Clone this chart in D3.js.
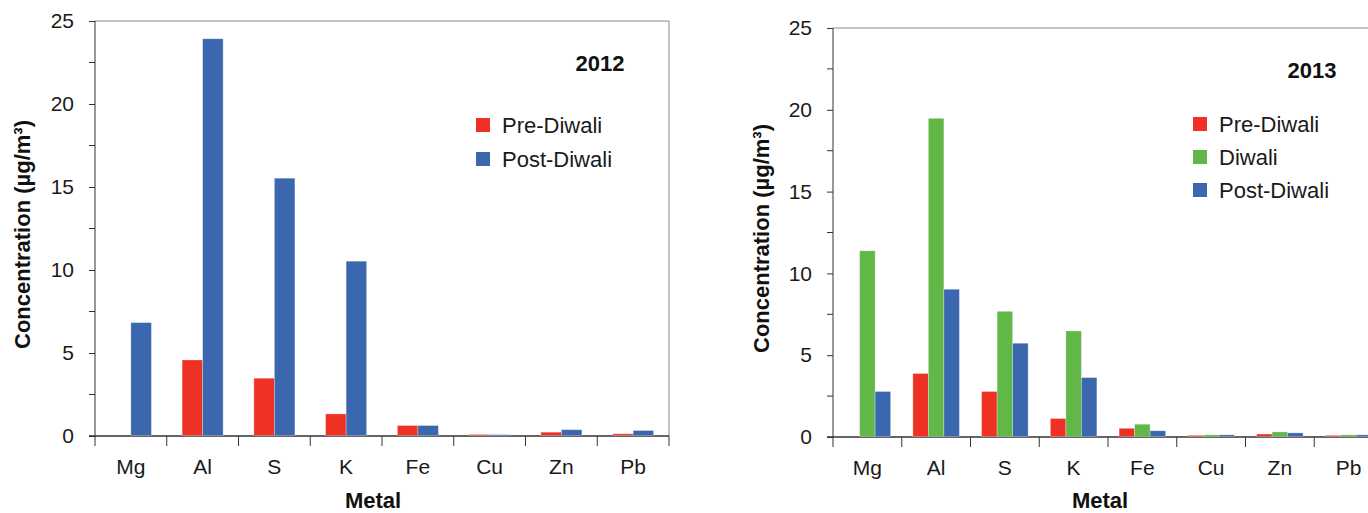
<!DOCTYPE html>
<html>
<head>
<meta charset="utf-8">
<script src="https://cdn.jsdelivr.net/npm/d3@7"></script>
<style>
  html, body { margin: 0; padding: 0; background: #fff; }
  svg { display: block; font-family: "Liberation Sans", Arial, sans-serif; }
</style>
</head>
<body>
<svg id="chart" width="1368" height="513"></svg>
<script>
// Metal concentrations (µg/m³) around Diwali
const metals = ["Mg", "Al", "S", "K", "Fe", "Cu", "Zn", "Pb"];

// 2012 campaign
const pre2012  = [0,    4.55, 3.45, 1.3,  0.6,  0.06, 0.2,  0.1];
const post2012 = [6.8,  23.9, 15.5, 10.5, 0.6,  0.05, 0.35, 0.3];

// 2013 campaign
const pre2013    = [0,     3.85,  2.75, 1.1,  0.5,  0.07, 0.15, 0.07];
const diwali2013 = [11.35, 19.45, 7.65, 6.45, 0.75, 0.1,  0.28, 0.1];
const post2013   = [2.75,  9.0,   5.7,  3.6,  0.35, 0.1,  0.22, 0.1];

const yTicks = [0, 5, 10, 15, 20, 25];
const yMinorTicks = [2.5, 7.5, 12.5, 17.5, 22.5];

const colors = { "Pre-Diwali": "#ee3124", "Diwali": "#62b847", "Post-Diwali": "#3a67ae" };

const svg = d3.select("#chart");

function drawPanel(cfg) {
  const g = svg.append("g");
  const x = d3.scaleBand().domain(metals).range([cfg.left, cfg.right]);
  const y = d3.scaleLinear().domain([0, 25]).range([cfg.bottom, cfg.top]);

  // frame: top and right edges
  g.append("line").attr("x1", cfg.left).attr("x2", cfg.right)
    .attr("y1", cfg.top).attr("y2", cfg.top)
    .attr("stroke", "#8a8a8a").attr("stroke-width", 1);
  g.append("line").attr("x1", cfg.right).attr("x2", cfg.right)
    .attr("y1", cfg.top).attr("y2", cfg.bottom)
    .attr("stroke", "#8a8a8a").attr("stroke-width", 1);

  // y axis with major (labelled) and minor ticks
  const yAxis = g.append("g")
    .attr("transform", `translate(${cfg.left},0)`)
    .call(d3.axisLeft(y).tickValues(yTicks).tickSize(6).tickPadding(15).tickFormat(d3.format("d")));
  yAxis.append("g").selectAll("line").data(yMinorTicks).join("line")
    .attr("x1", -6).attr("x2", 0)
    .attr("y1", d => y(d)).attr("y2", d => y(d))
    .attr("stroke", "#333");
  yAxis.select(".domain").attr("stroke", "#333").attr("d", `M0,${cfg.top}V${cfg.bottom}`);
  yAxis.selectAll(".tick line").attr("stroke", "#333");
  yAxis.selectAll(".tick text").attr("font-size", 21).attr("fill", "#1a1a1a")
    .attr("font-family", "Liberation Sans, Arial, sans-serif");

  // x axis with ticks at category boundaries
  const xAxis = g.append("g").attr("transform", `translate(0,${cfg.bottom})`);
  xAxis.append("line").attr("x1", cfg.left - 6).attr("x2", cfg.right)
    .attr("stroke", "#333").attr("stroke-width", 1.5);
  const bounds = metals.map(m => x(m)).concat([cfg.right]);
  xAxis.selectAll("line.bound").data(bounds).join("line")
    .attr("class", "bound")
    .attr("x1", d => d).attr("x2", d => d)
    .attr("y1", 0).attr("y2", 10)
    .attr("stroke", "#333");
  xAxis.selectAll("text").data(metals).join("text")
    .attr("x", d => x(d) + x.bandwidth() / 2)
    .attr("y", 38)
    .attr("text-anchor", "middle")
    .attr("font-size", 21).attr("fill", "#1a1a1a")
    .text(d => d);

  // bars, drawn above the baseline
  const seriesNames = cfg.series.map(s => s.name);
  const inner = d3.scaleBand().domain(seriesNames).range([0, cfg.groupWidth]);
  cfg.series.forEach(s => {
    g.append("g").selectAll("rect")
      .data(metals.map((m, i) => ({ m, v: s.values[i] })))
      .join("rect")
      .attr("x", d => x(d.m) + (x.bandwidth() - cfg.groupWidth) / 2 + inner(s.name))
      .attr("width", inner.bandwidth())
      .attr("y", d => y(d.v) - 0.5)
      .attr("height", d => y(0) - y(d.v))
      .attr("fill", colors[s.name])
      .attr("stroke", "rgba(255,255,255,0.35)")
      .attr("stroke-width", 0.8);
  });

  // axis titles
  g.append("text")
    .attr("transform", `translate(${cfg.yTitleX},${(cfg.top + cfg.bottom) / 2 + 6}) rotate(-90)`)
    .attr("text-anchor", "middle")
    .attr("font-size", 22).attr("font-weight", "bold").attr("fill", "#111")
    .text("Concentration (µg/m³)");
  g.append("text")
    .attr("x", cfg.xTitleX).attr("y", 508)
    .attr("text-anchor", "middle")
    .attr("font-size", 22).attr("font-weight", "bold").attr("fill", "#111")
    .text("Metal");

  // year label
  g.append("text")
    .attr("x", cfg.yearX).attr("y", cfg.yearY)
    .attr("text-anchor", "middle")
    .attr("font-size", 22).attr("font-weight", "bold").attr("fill", "#111")
    .text(cfg.year);

  // legend
  const leg = g.append("g").attr("transform", `translate(${cfg.legX},${cfg.legY})`);
  cfg.series.forEach((s, i) => {
    const row = leg.append("g").attr("transform", `translate(0,${i * cfg.legStep})`);
    row.append("rect").attr("x", 0).attr("y", 0).attr("width", 14).attr("height", 14)
      .attr("fill", colors[s.name]);
    row.append("text").attr("x", 26).attr("y", 15)
      .attr("font-size", 22).attr("fill", "#1a1a1a")
      .text(s.name);
  });
}

drawPanel({
  left: 95, right: 669, top: 21, bottom: 436,
  groupWidth: 41,
  series: [
    { name: "Pre-Diwali", values: pre2012 },
    { name: "Post-Diwali", values: post2012 }
  ],
  yTitleX: 30, xTitleX: 373,
  year: "2012", yearX: 600, yearY: 71,
  legX: 476, legY: 118, legStep: 34
});

drawPanel({
  left: 833, right: 1383, top: 28, bottom: 437,
  groupWidth: 46.5,
  series: [
    { name: "Pre-Diwali", values: pre2013 },
    { name: "Diwali", values: diwali2013 },
    { name: "Post-Diwali", values: post2013 }
  ],
  yTitleX: 769, xTitleX: 1100,
  year: "2013", yearX: 1312, yearY: 78,
  legX: 1193, legY: 117, legStep: 33
});
</script>
</body>
</html>
